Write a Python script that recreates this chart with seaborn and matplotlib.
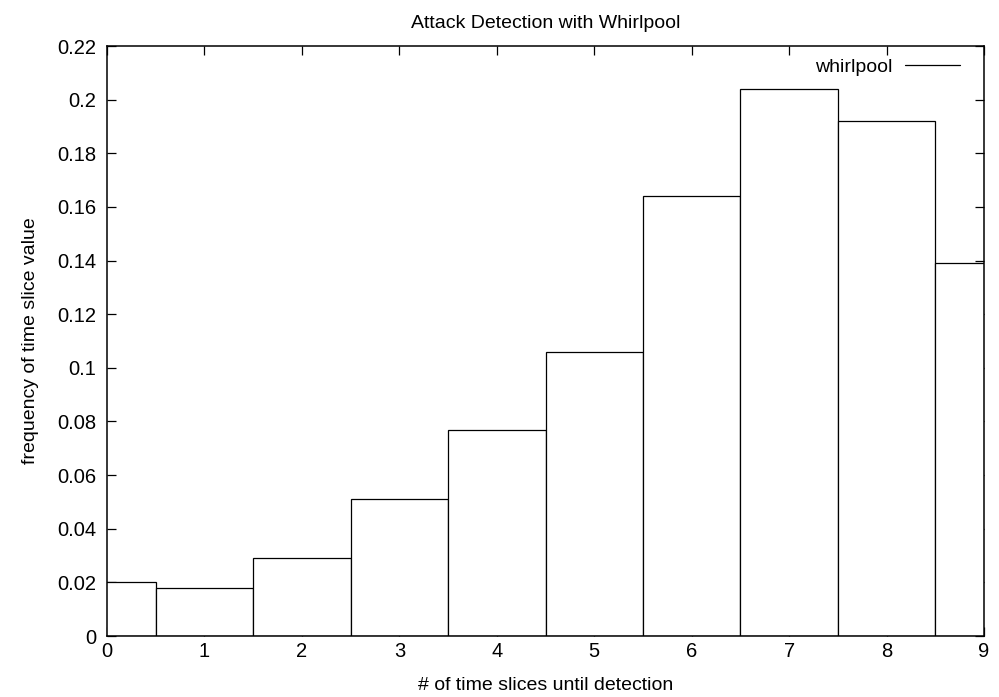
import numpy as np
import pandas as pd
import matplotlib
matplotlib.use("Agg")
import matplotlib.pyplot as plt
import seaborn as sns
from matplotlib.lines import Line2D

# data
slices = [0, 1, 2, 3, 4, 5, 6, 7, 8, 9]
freq = [0.020, 0.018, 0.029, 0.051, 0.077, 0.106, 0.164, 0.204, 0.192, 0.139]
series_name = "whirlpool"

df = pd.DataFrame({"slices": slices, "freq": freq})

sns.set_style("ticks")
plt.rcParams["font.family"] = ["Liberation Sans", "DejaVu Sans"]
plt.rcParams["font.size"] = 14
for k in ["text.color", "axes.labelcolor", "xtick.color", "ytick.color", "axes.edgecolor"]:
    plt.rcParams[k] = "black"

fig = plt.figure(figsize=(9.99, 6.97), dpi=100)
ax = fig.add_axes([0.1071, 0.0875, 0.8779, 0.8465])

sns.barplot(data=df, x="slices", y="freq", native_scale=True, width=1,
            color="white", edgecolor="black", linewidth=0.9,
            saturation=1, errorbar=None, ax=ax)

ax.set_xlim(0, 9)
ax.set_ylim(0, 0.22)
ax.set_xticks(np.arange(0, 10, 1))
ax.set_xticklabels([str(s) for s in range(10)])
yt = np.round(np.arange(0, 0.2201, 0.02), 2)
ax.set_yticks(yt)
ax.set_yticklabels(["0" if v == 0 else f"{v:g}" for v in yt])

ax.tick_params(direction="in", length=6.5, width=0.9, top=True, right=True,
               labelsize=14.5)
ax.tick_params(axis="y", pad=8)
ax.tick_params(axis="x", pad=4)
for sp in ax.spines.values():
    sp.set_visible(True)
    sp.set_linewidth(1.1)
    sp.set_zorder(5)

ax.set_title("Attack Detection with Whirlpool", fontsize=14, pad=13)
ax.set_xlabel("# of time slices until detection", fontsize=14, labelpad=12)
ax.set_ylabel("frequency of time slice value", fontsize=14, labelpad=13)

ax.legend(handles=[Line2D([], [], color="black", lw=0.9)], labels=[series_name],
          loc="upper right", bbox_to_anchor=(0.982, 0.993), frameon=False,
          markerfirst=False, fontsize=14, handlelength=2.85,
          handletextpad=0.65, borderaxespad=0.0)

fig.savefig("out.png", dpi=100)
